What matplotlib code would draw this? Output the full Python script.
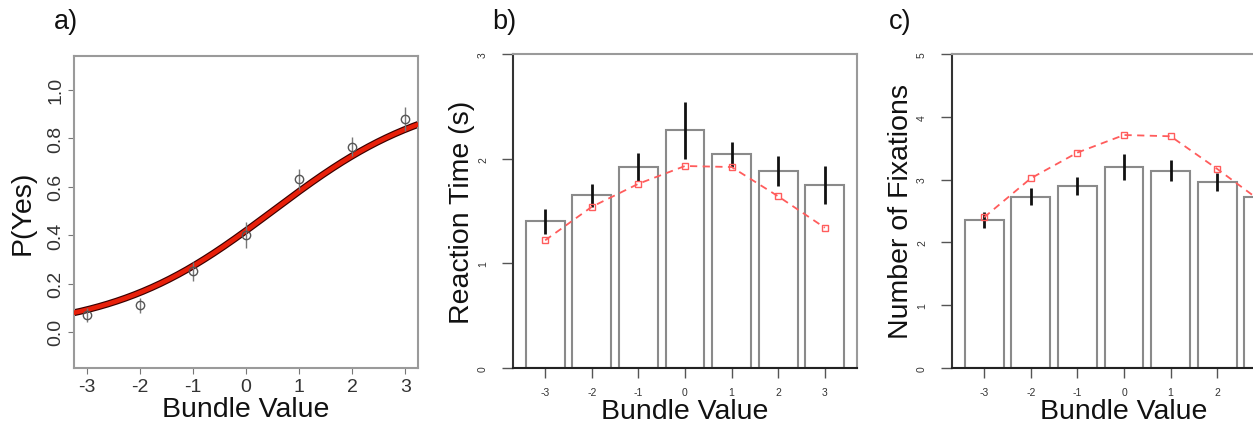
import numpy as np
import matplotlib
matplotlib.use("Agg")
import matplotlib.pyplot as plt

plt.rcParams['font.family'] = ['Liberation Sans', 'DejaVu Sans']

# data
bundle = [-3, -2, -1, 0, 1, 2, 3]

p_yes = [0.07, 0.11, 0.25, 0.40, 0.63, 0.765, 0.88]
p_yes_err = [0.03, 0.03, 0.04, 0.055, 0.045, 0.04, 0.05]
logit_intercept = -0.33
logit_slope = 0.655

rt_mean = [1.40, 1.65, 1.92, 2.27, 2.04, 1.88, 1.75]
rt_err = [0.115, 0.11, 0.135, 0.27, 0.12, 0.145, 0.18]
rt_model = [1.22, 1.54, 1.76, 1.93, 1.92, 1.64, 1.34]

fix_mean = [2.36, 2.73, 2.90, 3.20, 3.14, 2.96, 2.72]
fix_err = [0.125, 0.13, 0.145, 0.2, 0.165, 0.145, 0.15]
fix_model = [2.40, 3.02, 3.43, 3.71, 3.69, 3.17, 2.62]

W, H = 1253, 427
fig = plt.figure(figsize=(W / 100, H / 100), dpi=100)

box_col = '#9a9a9a'
tick_col = '#333333'
red = '#ff5c5c'


def pos(left, top, right, bottom):
    return [left / W, 1 - bottom / H, (right - left) / W, (bottom - top) / H]


# ---- a) logistic fit ----
ax = fig.add_axes(pos(74, 57, 418, 369))
xs = np.linspace(-3.3, 3.3, 200)
curve = 1 / (1 + np.exp(-(logit_intercept + logit_slope * xs)))
ax.plot(xs, curve, color='#3a0000', lw=5, solid_capstyle='butt', zorder=2)
ax.plot(xs, curve, color='#e8200a', lw=3.3, solid_capstyle='butt', zorder=3)
ax.errorbar(bundle, p_yes, yerr=p_yes_err, fmt='o', mfc='none', mec='#555555',
            ms=6, mew=1, ecolor='#777777', elinewidth=1, capsize=0, zorder=4)
ax.set_xlim(-3.24, 3.24)
ax.set_ylim(-0.149, 1.14)
ax.set_xticks(bundle)
ax.set_xticklabels([str(b) for b in bundle])
ax.set_yticks([0.0, 0.2, 0.4, 0.6, 0.8, 1.0])
ax.set_yticklabels(['0.0', '0.2', '0.4', '0.6', '0.8', '1.0'], rotation=90, va='center')
ax.tick_params(axis='both', labelsize=14, colors='#777777', labelcolor=tick_col, length=4, width=0.8)
ax.tick_params(axis='y', pad=3)
for s in ax.spines.values():
    s.set_color(box_col)
    s.set_linewidth(1.5)
ax.set_xlabel('Bundle Value', fontsize=20.5, color='#111111')
ax.xaxis.set_label_coords(0.5, -0.13)
ax.xaxis.label.set_va('center')
ax.set_ylabel('P(Yes)', fontsize=20.5, color='#111111')
ax.yaxis.set_label_coords(-0.15, 0.5)
ax.yaxis.label.set_va('center')


def bar_panel(left, ymax, means, errs, model, ylabel):
    ax = fig.add_axes(pos(left, 55, left + 344, 369))
    ax.bar(bundle, means, width=0.833, color='white', edgecolor='#8a8a8a', lw=1.5, zorder=2)
    ax.errorbar(bundle, means, yerr=errs, fmt='none', ecolor='#111111', elinewidth=2,
                capsize=0, zorder=3)
    ax.plot(bundle, model, ls=(0, (4, 3)), color=red, lw=1.3, marker='s', ms=5,
            mfc='none', mec=red, mew=1, zorder=4)
    ax.set_xlim(-3.69, 3.69)
    ax.set_ylim(0, ymax)
    ax.set_xticks(bundle)
    ax.set_xticklabels([str(b) for b in bundle])
    ax.set_yticks(range(ymax + 1))
    ax.set_yticklabels([str(v) for v in range(ymax + 1)], rotation=90, va='center')
    ax.tick_params(axis='both', labelsize=7.5, colors='#555555', labelcolor=tick_col, width=1)
    ax.tick_params(axis='y', length=8, pad=10)
    ax.tick_params(axis='x', length=7, pad=7)
    ax.spines['left'].set_color('#333333')
    ax.spines['bottom'].set_color('#222222')
    ax.spines['top'].set_color(box_col)
    ax.spines['right'].set_color(box_col)
    for s in ax.spines.values():
        s.set_linewidth(1.5)
    ax.set_xlabel('Bundle Value', fontsize=20.5, color='#111111')
    ax.xaxis.set_label_coords(0.5, -0.138)
    ax.xaxis.label.set_va('center')
    ax.set_ylabel(ylabel, fontsize=20.5, color='#111111')
    ax.yaxis.set_label_coords(-0.148, 0.5)
    ax.yaxis.label.set_va('center')
    return ax


bar_panel(513, 3, rt_mean, rt_err, rt_model, 'Reaction Time (s)')
bar_panel(952, 5, fix_mean, fix_err, fix_model, 'Number of Fixations')

for letter, x in [('a)', 54), ('b)', 492), ('c)', 889)]:
    fig.text(x / W, 1 - 22 / H, letter, fontsize=19.5, ha='left', va='center', color='#111111')

fig.savefig('out.png', dpi=100)
